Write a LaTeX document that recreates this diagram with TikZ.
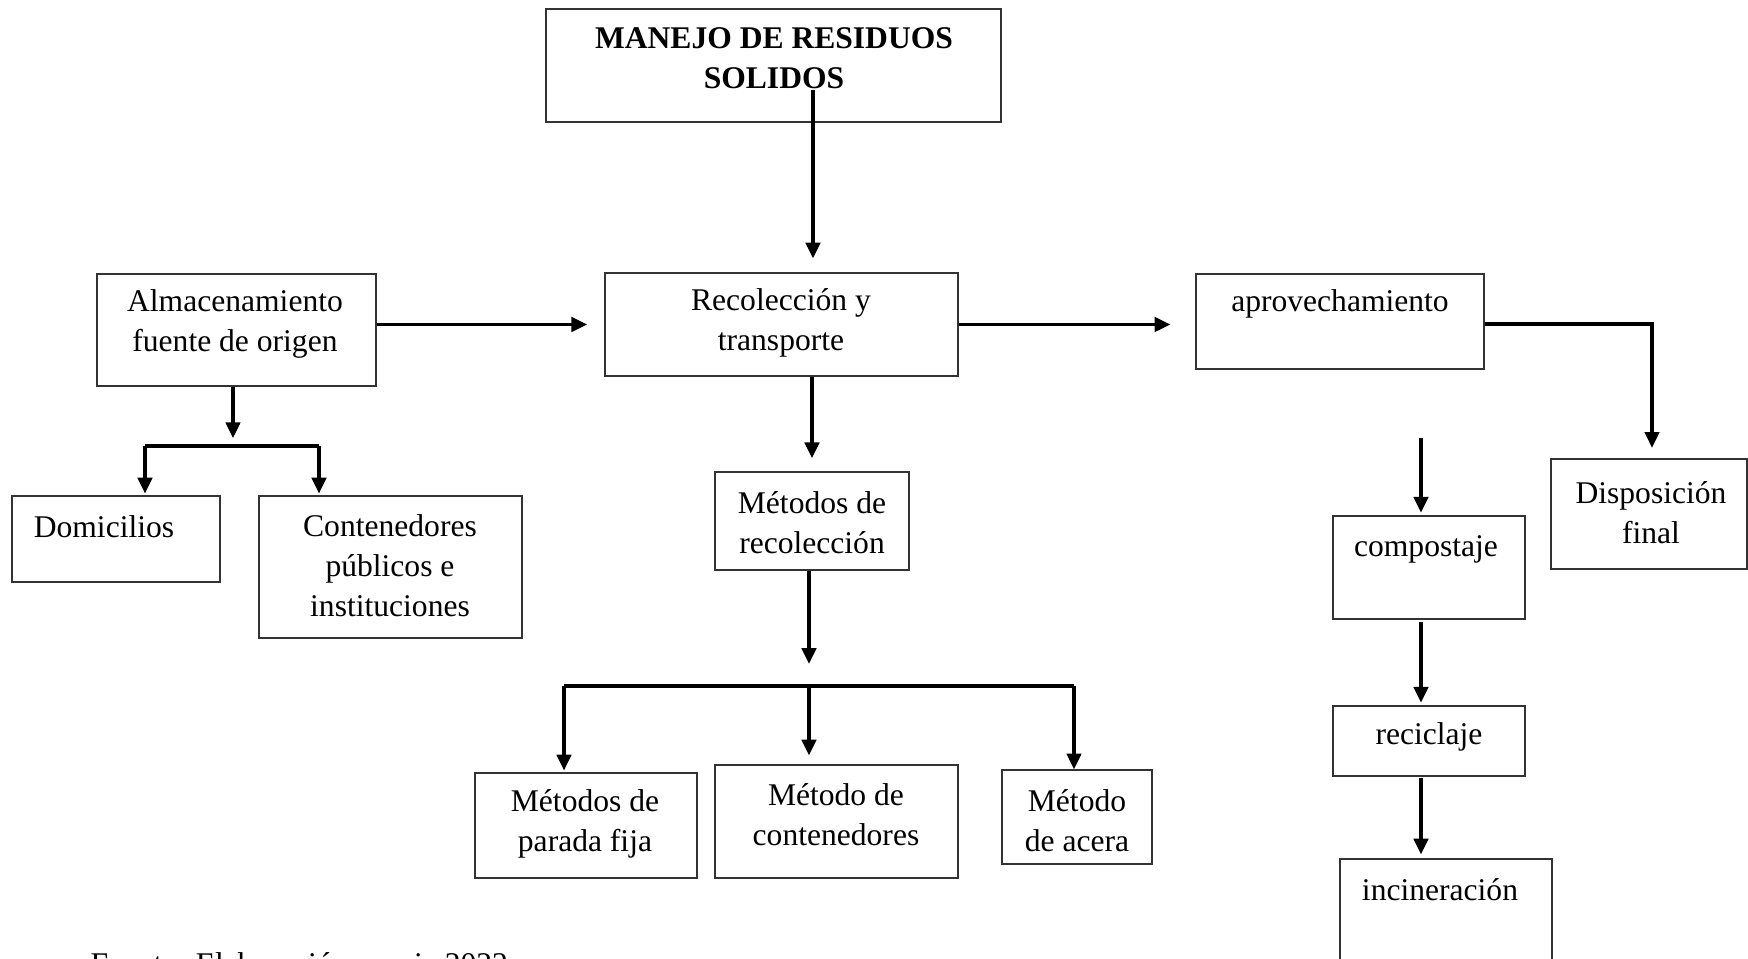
\documentclass[tikz,border=0pt]{standalone}
\usepackage{fontspec}
\setmainfont{Liberation Serif}
\usetikzlibrary{arrows.meta,fit}
\tikzset{
  caja/.style={draw=black!80, line width=0.5pt, inner sep=0pt},
  texto/.style={align=center, inner sep=0pt, font=\fontsize{12}{15.2}\selectfont},
  flecha/.style={line width=1.2pt, -{Triangle[length=6pt,width=5.5pt]}},
  linea/.style={line width=1.2pt},
}

\begin{document}
\begin{tikzpicture}[x=0.38pt, y=-0.38pt]
			%%%%% START %%%%%
			\useasboundingbox (0,0) rectangle (1748,959);
			
			% cajas
			\node[caja, fit={(546,9) (1001,122)}] (titulo) {};
			\node[caja, fit={(97,274) (376,386)}] (alm) {};
			\node[caja, fit={(605,273) (958,376)}] (rec) {};
			\node[caja, fit={(1196,274) (1484,369)}] (apr) {};
			\node[caja, fit={(1551,459) (1747,569)}] (disp) {};
			\node[caja, fit={(1333,516) (1525,619)}] (comp) {};
			\node[caja, fit={(1333,706) (1525,776)}] (recic) {};
			\node[caja, fit={(1340,859) (1552,985)}] (inc) {};
			\node[caja, fit={(12,496) (220,582)}] (dom) {};
			\node[caja, fit={(259,496) (522,638)}] (cont) {};
			\node[caja, fit={(715,472) (909,570)}] (met) {};
			\node[caja, fit={(475,773) (697,878)}] (par) {};
			\node[caja, fit={(715,765) (958,878)}] (mcont) {};
			\node[caja, fit={(1002,770) (1152,864)}] (acera) {};
			
			% textos
			\node[texto, font=\fontsize{12}{15.2}\selectfont\bfseries] (titulo-t) at (774,58) {MANEJO DE RESIDUOS\\SOLIDOS};
			\node[texto] (alm-t) at (235,324) {Almacenamiento\\fuente de origen};
			\node[texto] (rec-t) at (781,323) {Recolección y\\transporte};
			\node[texto] (apr-t) at (1340,304) {aprovechamiento};
			\node[texto] (disp-t) at (1651,513) {Disposición\\final};
			\node[texto] (comp-t) at (1426,549) {compostaje};
			\node[texto] (recic-t) at (1429,737) {reciclaje};
			\node[texto] (inc-t) at (1440,890) {incineración};
			\node[texto] (dom-t) at (104,527) {Domicilios};
			\node[texto] (cont-t) at (390,566) {Contenedores\\públicos e\\instituciones};
			\node[texto] (met-t) at (812,523) {Métodos de\\recolección};
			\node[texto] (par-t) at (585,824) {Métodos de\\parada fija};
			\node[texto] (mcont-t) at (836,815) {Método de\\contenedores};
			\node[texto] (acera-t) at (1077,821) {Método\\de acera};
			\node[texto, anchor=base west] (fuente) at (90,975) {Fuente: Elaboración propia 2022};
			
			% puntos de union
			\coordinate (t0) at (813,90);
			\coordinate (a0) at (233,446);
			\coordinate (aL) at (145,446);
			\coordinate (aR) at (319,446);
			\coordinate (p0) at (1652,324);
			\coordinate (k0) at (1421,438);
			\coordinate (bL) at (564,686);
			\coordinate (bM) at (809,686);
			\coordinate (bR) at (1074,686);
			
			% flechas
			\draw[flecha, shorten >=5.3pt] (t0) -- (t0 |- rec.north);
			\draw[flecha, shorten >=6.5pt] (alm.east |- rec.west) -- (rec.west);
			\draw[flecha, shorten >=9.5pt] (rec.east) -- (rec.east -| apr.west);
			\draw[flecha, shorten >=4pt] (apr.east |- p0) -- (p0) -- (p0 |- disp.north);
			
			\draw[flecha, shorten >=3pt] (a0 |- alm.south) -- (a0);
			\draw[linea] (aL) -- (aR);
			\draw[flecha, shorten >=0.7pt] (aL) -- (aL |- dom.north);
			\draw[flecha, shorten >=0.7pt] (aR) -- (aR |- cont.north);
			
			\draw[flecha, shorten >=5pt] (met.north |- rec.south) -- (met.north);
			\draw[flecha, shorten >=8.4pt] (bM |- met.south) -- (bM);
			\draw[linea] (bL) -- (bR);
			\draw[flecha, shorten >=0.7pt] (bL) -- (bL |- par.north);
			\draw[flecha, shorten >=3.4pt] (bM) -- (bM |- mcont.north);
			\draw[flecha] (bR) -- (bR |- acera.north);
			
			\draw[flecha, shorten >=1pt] (k0) -- (k0 |- comp.north);
			\draw[flecha, shorten <=1pt, shorten >=1pt] (k0 |- comp.south) -- (k0 |- recic.north);
			\draw[flecha, shorten <=0.4pt, shorten >=1.5pt] (k0 |- recic.south) -- (k0 |- inc.north);
			
			%%%%% END %%%%%
		\end{tikzpicture}
\end{document}
